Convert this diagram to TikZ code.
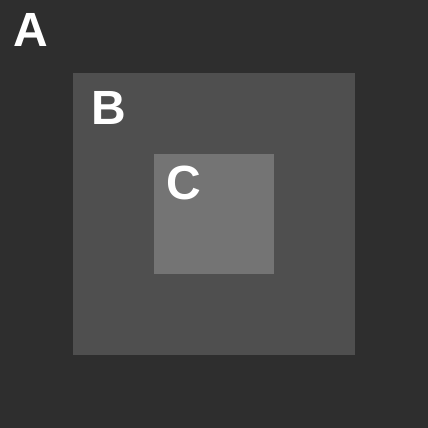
\documentclass[tikz,border=0pt]{standalone}
\usepackage{fontspec}
\setmainfont{Liberation Sans}
\definecolor{bgA}{HTML}{2E2E2E}
\definecolor{bgB}{HTML}{4F4F4F}
\definecolor{bgC}{HTML}{747474}
\begin{document}
\begin{tikzpicture}[x=1pt,y=-1pt,
  lbl/.style={anchor=base west,inner sep=0pt,text=white,font=\fontsize{48}{48}\selectfont\bfseries}]
\fill[bgA] (0,0) rectangle (428,428);
\useasboundingbox (0,0) rectangle (428,428);
\fill[bgB] (73,73) rectangle (355,355);
\fill[bgC] (154,154) rectangle (274,274);
\node[lbl] (a) at (13.5,47) {A};
\node[lbl] (b) at (91.5,124) {B};
\node[lbl] (c) at (166,199.5) {C};
\end{tikzpicture}
\end{document}
